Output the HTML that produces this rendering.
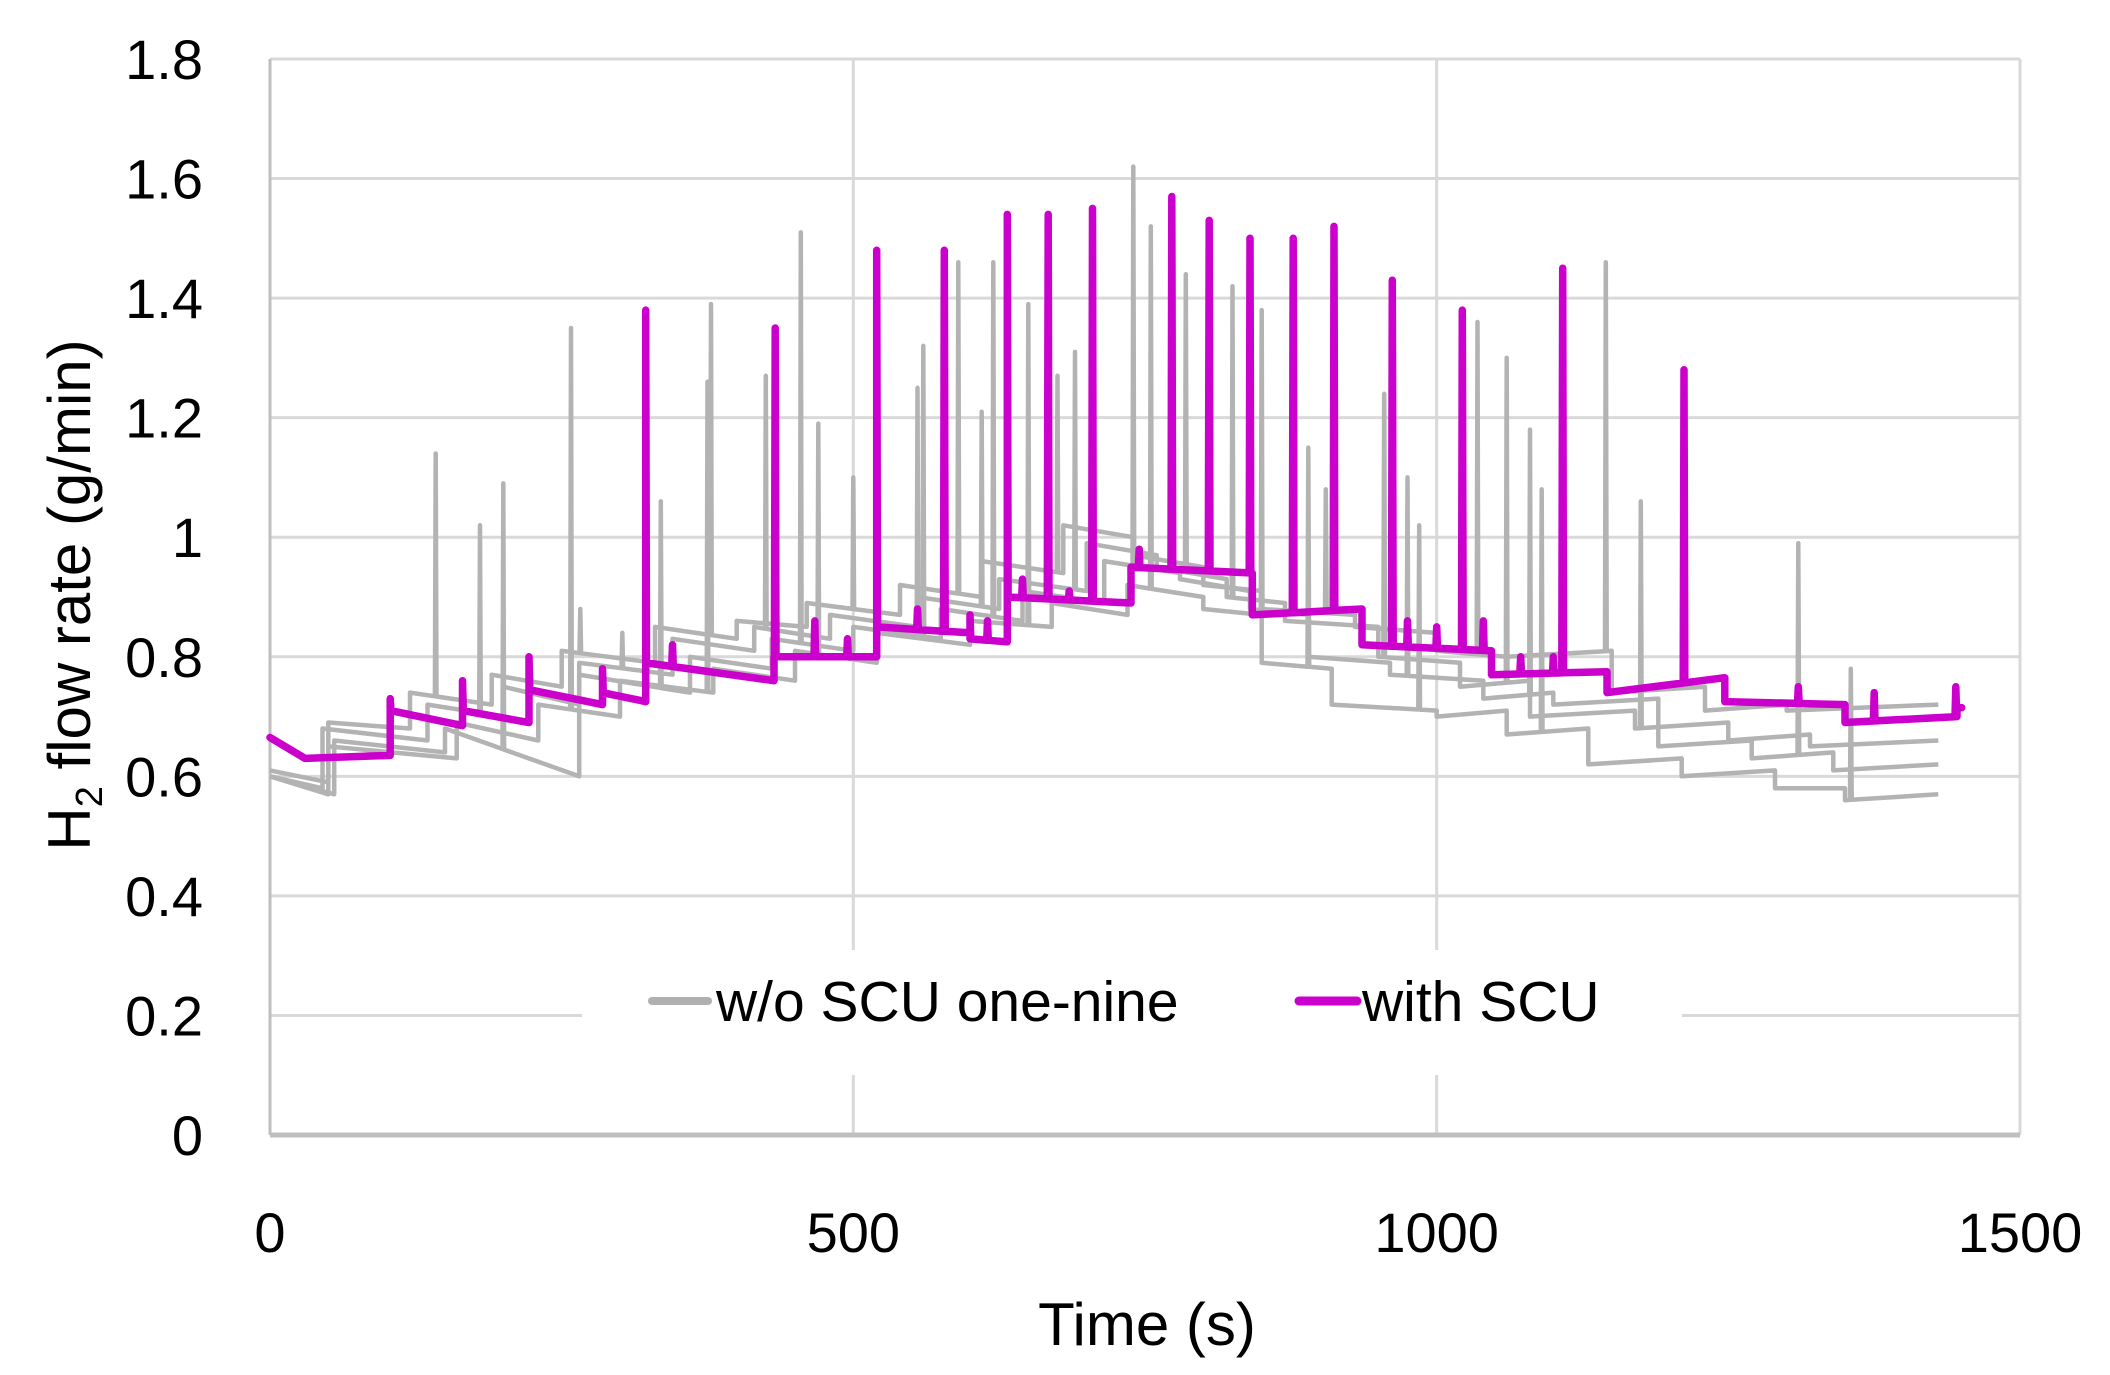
<!DOCTYPE html>
<html><head><meta charset="utf-8">
<style>
html,body{margin:0;padding:0;background:#fff;}
svg{display:block;font-family:"Liberation Sans",sans-serif;}
</style></head>
<body>
<svg id="chart" width="2110" height="1375" viewBox="0 0 2110 1375" xmlns="http://www.w3.org/2000/svg">
<g id="grid"></g>
<g id="gray"></g>
<g id="mag"></g>
<g id="axes"></g>
<g>
<rect x="582" y="950" width="1100" height="125" fill="#fff"/>
<line x1="652" y1="1001" x2="708" y2="1001" stroke="#B0B0B0" stroke-width="8" stroke-linecap="round"/>
<text x="716" y="1021" font-size="57" fill="#000">w/o SCU one-nine</text>
<line x1="1299" y1="1001" x2="1357" y2="1001" stroke="#CC00CC" stroke-width="9" stroke-linecap="round"/>
<text x="1362" y="1021" font-size="57" fill="#000">with SCU</text>
</g>
<text x="1147" y="1345" font-size="60" text-anchor="middle">Time (s)</text>
<text transform="translate(90,595) rotate(-90)" font-size="60" text-anchor="middle">H<tspan font-size="38" dy="12">2</tspan><tspan dy="-12"> flow rate (g/min)</tspan></text>
</svg>
<script>
const yTicks=[0,0.2,0.4,0.6,0.8,1,1.2,1.4,1.6,1.8];
const yTickLabels=["0","0.2","0.4","0.6","0.8","1","1.2","1.4","1.6","1.8"];
const xTicks=[0,500,1000,1500];
const xTickLabels=["0","500","1000","1500"];
// with SCU: step segments [tStart,tEnd,vStart,vEnd]
const magSteps=[[0,30,0.665,0.63],[30,103,0.63,0.635],[103,165,0.71,0.685],[165,222,0.71,0.69],[222,285,0.745,0.72],[285,322,0.74,0.725],[322,432,0.79,0.76],[432,520,0.80,0.80],[520,600,0.85,0.84],[600,632,0.83,0.825],[632,738,0.90,0.89],[738,842,0.95,0.94],[842,936,0.87,0.88],[936,1047,0.82,0.81],[1047,1146,0.77,0.775],[1146,1247,0.74,0.765],[1247,1350,0.725,0.72],[1350,1446,0.69,0.70],[1446,1450,0.715,0.715]];
const magSpikes=[[103,0.73],[165,0.76],[222,0.80],[285,0.78],[322,1.38],[345,0.82],[433,1.35],[467,0.86],[495,0.83],[520,1.48],[555,0.88],[578,1.48],[600,0.87],[615,0.86],[632,1.54],[645,0.93],[667,1.54],[685,0.91],[705,1.55],[745,0.98],[773,1.57],[805,1.53],[840,1.50],[877,1.50],[912,1.52],[962,1.43],[975,0.86],[1000,0.85],[1022,1.38],[1040,0.86],[1072,0.80],[1100,0.80],[1108,1.45],[1212,1.28],[1310,0.75],[1375,0.74],[1445,0.75]];
// w/o SCU series (step segments)
const gray1=[[0,50,0.61,0.59],[50,120,0.69,0.68],[120,190,0.74,0.72],[190,250,0.77,0.75],[250,330,0.81,0.79],[330,400,0.85,0.83],[400,460,0.86,0.85],[460,540,0.89,0.87],[540,610,0.92,0.90],[610,680,0.96,0.94],[680,740,1.02,1.00],[740,800,0.97,0.95],[800,850,0.92,0.91],[850,930,0.88,0.87],[930,1000,0.85,0.84],[1000,1060,0.81,0.80],[1060,1150,0.80,0.81],[1150,1230,0.74,0.75],[1230,1300,0.71,0.72],[1300,1430,0.71,0.72]];
const gray2=[[0,45,0.60,0.58],[45,135,0.68,0.66],[135,200,0.72,0.70],[200,265,0.75,0.72],[265,345,0.79,0.77],[345,415,0.83,0.81],[415,480,0.85,0.83],[480,555,0.87,0.85],[555,625,0.90,0.88],[625,700,0.93,0.91],[700,760,0.99,0.97],[760,820,0.95,0.93],[820,870,0.90,0.89],[870,950,0.86,0.85],[950,1020,0.80,0.79],[1020,1080,0.75,0.76],[1080,1170,0.70,0.71],[1170,1250,0.68,0.69],[1250,1320,0.66,0.67],[1320,1430,0.65,0.66]];
const gray3=[[0,55,0.60,0.57],[55,150,0.66,0.64],[150,265,0.68,0.60],[265,360,0.77,0.74],[360,430,0.80,0.78],[430,500,0.83,0.81],[500,575,0.85,0.83],[575,645,0.88,0.86],[645,715,0.91,0.89],[715,780,0.96,0.94],[780,840,0.93,0.91],[840,890,0.88,0.87],[890,960,0.80,0.79],[960,1040,0.77,0.76],[1040,1100,0.73,0.74],[1100,1190,0.72,0.73],[1190,1270,0.65,0.66],[1270,1340,0.63,0.64],[1340,1430,0.61,0.62]];
const gray4=[[0,50,0.60,0.57],[50,160,0.65,0.63],[160,230,0.69,0.66],[230,300,0.72,0.70],[300,380,0.76,0.74],[380,450,0.78,0.76],[450,520,0.81,0.79],[520,600,0.84,0.82],[600,670,0.86,0.85],[670,735,0.89,0.87],[735,800,0.92,0.90],[800,850,0.88,0.87],[850,910,0.79,0.78],[910,1000,0.72,0.71],[1000,1060,0.70,0.71],[1060,1130,0.67,0.68],[1130,1210,0.62,0.63],[1210,1290,0.60,0.61],[1290,1350,0.58,0.58],[1350,1430,0.56,0.57]];
const graySpikes=[[142,1.14],[180,1.02],[200,1.09],[258,1.35],[266,0.88],[302,0.84],[335,1.06],[375,1.26],[378,1.39],[425,1.27],[455,1.51],[470,1.19],[500,1.10],[520,1.31],[555,1.25],[560,1.32],[590,1.46],[610,1.21],[620,1.46],[650,1.39],[675,1.27],[690,1.31],[740,1.62],[755,1.52],[785,1.44],[825,1.42],[850,1.38],[890,1.15],[905,1.08],[955,1.24],[975,1.10],[985,1.02],[1035,1.36],[1060,1.30],[1080,1.18],[1090,1.08],[1145,1.46],[1175,1.06],[1310,0.99],[1355,0.78]];

const X0=270,X1=2020,Y0=1135,Y1=59;
const xs=t=>X0+(t-0)/1500*(X1-X0);
const ys=v=>Y0-(v/1.8)*(Y0-Y1);
const NS="http://www.w3.org/2000/svg";
function mk(tag,attrs,parent){const e=document.createElementNS(NS,tag);for(const k in attrs)e.setAttribute(k,attrs[k]);parent.appendChild(e);return e;}

const grid=document.getElementById('grid'),axes=document.getElementById('axes');
yTicks.forEach((v,i)=>{
  if(v>0){const l=mk('line',{x1:X0,x2:X1,y1:ys(v),y2:ys(v),stroke:'#D9D9D9','stroke-width':3},grid);
  
  }
  const t=mk('text',{x:203,y:ys(v)+20,'font-size':56,'text-anchor':'end'},axes);
  t.textContent=yTickLabels[i];
  
  
});
xTicks.forEach((v,i)=>{
  const l=mk('line',{x1:xs(v),x2:xs(v),y1:Y1,y2:Y0,stroke:(v===0?'#BFBFBF':'#D9D9D9'),'stroke-width':3},grid);
  
  
  const t=mk('text',{x:xs(v),y:1252,'font-size':56,'text-anchor':'middle'},axes);
  t.textContent=xTickLabels[i];
  
  
});
const ax=mk('line',{x1:X0,x2:X1,y1:Y0,y2:Y0,stroke:'#BFBFBF','stroke-width':5},axes);



function levelAt(steps,t,right){
  for(const s of steps){
    const inside=right?(t>=s[0]&&t<s[1]):(t>s[0]&&t<=s[1]);
    if(inside)return s[2]+(s[3]-s[2])*(t-s[0])/(s[1]-s[0]);
  }
  return steps[steps.length-1][3];
}
function buildPts(steps,spikes){
  const pts=[];
  steps.forEach(s=>{pts.push([s[0],s[2]]);pts.push([s[1],s[3]]);});
  spikes.forEach(sp=>{
    pts.push([sp[0]-0.7,levelAt(steps,sp[0]-0.7,false)]);
    pts.push([sp[0],sp[1]]);
    pts.push([sp[0]+0.7,levelAt(steps,sp[0]+0.7,true)]);
  });
  pts.sort((a,b)=>a[0]-b[0]);
  return pts.map(p=>xs(p[0]).toFixed(1)+','+ys(p[1]).toFixed(1)).join(' ');
}
const grayG=document.getElementById('gray');
[gray1,gray2,gray3,gray4].forEach((g,i)=>{
  const sp=graySpikes.filter((s,j)=>j%4===i);
  const p=mk('polyline',{points:buildPts(g,sp),fill:'none',stroke:'#B3B3B3','stroke-width':4.5,'stroke-linejoin':'round'},grayG);
  
  
});
const m=mk('polyline',{points:buildPts(magSteps,magSpikes),fill:'none',stroke:'#CC00CC','stroke-width':7.5,'stroke-linejoin':'round','stroke-linecap':'round'},document.getElementById('mag'));


</script>
</body></html>
